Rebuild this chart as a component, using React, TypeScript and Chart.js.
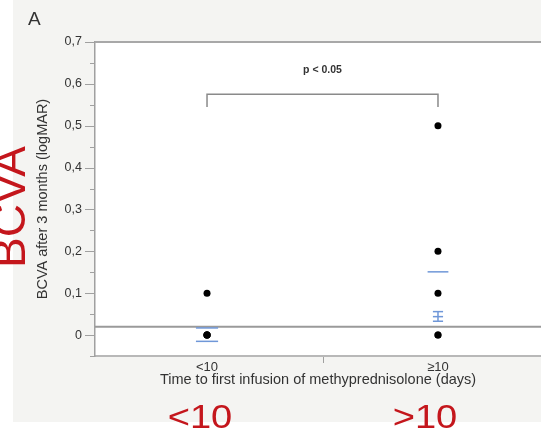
import React, { useEffect, useRef } from "react";
import { Chart, registerables } from "chart.js";

Chart.register(...registerables);

const categories = ["<10", "≥10"];
const lowGroupValues = [0.1, 0, 0, 0, 0];
const highGroupValues = [0.5, 0.2, 0.1, 0, 0];
const yTickValues = [0, 0.1, 0.2, 0.3, 0.4, 0.5, 0.6, 0.7];
const referenceLevel = 0.02;
// blue summary marks: [category index, value, half width]
const lowGroupMarks = [
  [0, 0.017, 0.048],
  [0, -0.015, 0.048],
];
const highGroupMarks = [
  [1, 0.151, 0.045],
  [1, 0.056, 0.022],
  [1, 0.044, 0.022],
  [1, 0.033, 0.022],
];
const highErrorBar = [0.033, 0.056];
const bracketLegBottom = 0.545;
const bracketTop = 0.575;
const pValueText = "p < 0.05";
const pValueLevel = 0.632;

const FONT = "'Liberation Sans', Arial, Helvetica, sans-serif";
const BLUE = "#6f97d8";
const GREY = "#9a9a9a";
const RED = "#c4161c";

const decor = {
  id: "decor",
  beforeDraw(chart: any) {
    const { ctx, chartArea: a, width, height } = chart;
    ctx.save();
    ctx.fillStyle = "#ffffff";
    ctx.fillRect(0, 0, width, height);
    ctx.fillStyle = "#f4f4f2";
    ctx.fillRect(13, 0, width - 13, 422);
    ctx.fillStyle = "#ffffff";
    ctx.fillRect(a.left, a.top, a.right - a.left, a.bottom - a.top);
    ctx.restore();
  },
  afterDraw(chart: any) {
    const { ctx, chartArea: a, scales } = chart;
    const xs = scales.x;
    const ys = scales.y;
    ctx.save();
    // top frame line
    ctx.strokeStyle = "#a8a8a8";
    ctx.lineWidth = 2;
    ctx.beginPath();
    ctx.moveTo(a.left, a.top);
    ctx.lineTo(a.right, a.top);
    ctx.stroke();
    // y ticks (major + minor)
    ctx.strokeStyle = "#a0a0a0";
    ctx.lineWidth = 1;
    for (let i = 0; i < yTickValues.length; i++) {
      const v = yTickValues[i];
      const py = Math.round(ys.getPixelForValue(v)) + 0.5;
      ctx.beginPath();
      ctx.moveTo(a.left - 10, py);
      ctx.lineTo(a.left, py);
      ctx.stroke();
      const mv = v - 0.05;
      const my = Math.round(ys.getPixelForValue(mv)) + 0.5;
      ctx.beginPath();
      ctx.moveTo(a.left - 5, my);
      ctx.lineTo(a.left, my);
      ctx.stroke();
    }
    // x tick between categories
    const tx = Math.round(xs.getPixelForValue(0.5)) + 0.5;
    ctx.beginPath();
    ctx.moveTo(tx, a.bottom + 1);
    ctx.lineTo(tx, a.bottom + 7);
    ctx.stroke();
    // p-value text
    ctx.fillStyle = "#333333";
    ctx.font = `bold 10.5px ${FONT}`;
    ctx.textAlign = "center";
    ctx.textBaseline = "middle";
    ctx.fillText(pValueText, xs.getPixelForValue(0.5), ys.getPixelForValue(pValueLevel));
    // panel letter
    ctx.font = `19px ${FONT}`;
    ctx.fillStyle = "#333333";
    ctx.textAlign = "left";
    ctx.fillText("A", 28, 20);
    // red annotations
    ctx.fillStyle = RED;
    ctx.font = `34px ${FONT}`;
    ctx.textAlign = "center";
    [
      ["<10", 200],
      [">10", 425],
    ].forEach(([t, x]) => {
      ctx.save();
      ctx.translate(x as number, 419);
      ctx.scale(1.12, 1);
      ctx.fillText(t as string, 0, 0);
      ctx.restore();
    });
    ctx.save();
    ctx.translate(25, 207);
    ctx.rotate(-Math.PI / 2);
    ctx.font = `46px ${FONT}`;
    ctx.textBaseline = "alphabetic";
    ctx.fillText("BCVA", 0, 0);
    ctx.restore();
    ctx.restore();
  },
};

function segmentDataset(points: { x: number; y: number }[], color: string, width: number) {
  return {
    type: "line" as const,
    data: points,
    borderColor: color,
    borderWidth: width,
    pointRadius: 0,
    showLine: true,
    fill: false,
  };
}

export default function App() {
  const ref = useRef<HTMLCanvasElement>(null);
  useEffect(() => {
    document.body.style.margin = "0";
    const datasets: any[] = [];
    // first dataset is drawn on top
    datasets.push({
      type: "scatter",
      data: [
        ...lowGroupValues.map((v) => ({ x: 0, y: v })),
        ...highGroupValues.map((v) => ({ x: 1, y: v })),
      ],
      backgroundColor: "#000000",
      borderColor: "#000000",
      pointRadius: 3.5,
      borderWidth: 0,
    });
    [...lowGroupMarks, ...highGroupMarks].forEach(([c, v, w]) => {
      datasets.push(
        segmentDataset(
          [
            { x: c - w, y: v },
            { x: c + w, y: v },
          ],
          BLUE,
          1.5
        )
      );
    });
    datasets.push(
      segmentDataset(
        [
          { x: 1, y: highErrorBar[0] },
          { x: 1, y: highErrorBar[1] },
        ],
        BLUE,
        1.5
      )
    );
    // bracket
    datasets.push(
      segmentDataset(
        [
          { x: 0, y: bracketLegBottom },
          { x: 0, y: bracketTop },
          { x: 1, y: bracketTop },
          { x: 1, y: bracketLegBottom },
        ],
        "#8a8a8a",
        1.5
      )
    );
    // reference line
    datasets.push(
      segmentDataset(
        [
          { x: -0.485, y: referenceLevel },
          { x: 1.446, y: referenceLevel },
        ],
        GREY,
        2
      )
    );

    const chart = new Chart(ref.current!, {
      type: "scatter",
      data: { datasets },
      plugins: [decor],
      options: {
        animation: false,
        responsive: false,
        layout: { autoPadding: false, padding: { top: 42, left: 0, right: 0, bottom: 0 } },
        plugins: { legend: { display: false }, tooltip: { enabled: false } },
        scales: {
          x: {
            type: "linear",
            min: -0.485,
            max: 1.446,
            afterFit: (s: any) => {
              s.height = 82;
              s.paddingLeft = 0;
              s.paddingRight = 0;
            },
            afterBuildTicks: (s: any) => {
              s.ticks = [{ value: 0 }, { value: 1 }];
            },
            grid: { drawOnChartArea: false, drawTicks: false },
            border: { display: true, color: "#b8b8b8", width: 2 },
            ticks: {
              padding: 5,
              color: "#333333",
              font: { family: FONT, size: 13, lineHeight: 1 },
              callback: (v: any) => categories[Math.round(Number(v))] ?? "",
            },
            title: {
              display: true,
              text: "Time to first infusion of methyprednisolone (days)",
              color: "#333333",
              font: { family: FONT, size: 14.5 },
              padding: { top: 0, bottom: 49 },
            },
          },
          y: {
            min: -0.05,
            max: 0.7,
            afterFit: (s: any) => {
              s.width = 95;
              s.paddingTop = 0;
              s.paddingBottom = 0;
            },
            afterBuildTicks: (s: any) => {
              s.ticks = yTickValues.map((v) => ({ value: v }));
            },
            grid: { drawOnChartArea: false, drawTicks: false },
            border: { display: true, color: "#a0a0a0", width: 1.5 },
            ticks: {
              padding: 13,
              color: "#333333",
              font: { family: FONT, size: 12.5 },
              callback: (v: any) => {
                const n = Math.round(Number(v) * 10) / 10;
                return n === 0 ? "0" : n.toFixed(1).replace(".", ",");
              },
            },
            title: {
              display: true,
              text: "BCVA after 3 months (logMAR)",
              color: "#333333",
              font: { family: FONT, size: 14.5 },
              padding: { top: 34, bottom: 0 },
            },
          },
        },
      },
    } as any);
    return () => chart.destroy();
  }, []);
  return <canvas ref={ref} width={541} height={438} style={{ display: "block" }} />;
}
